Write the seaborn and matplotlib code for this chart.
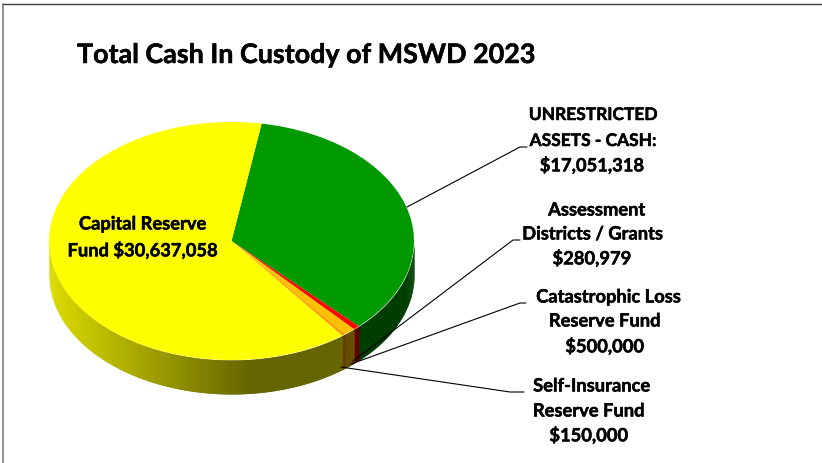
import numpy as np
import matplotlib
matplotlib.use("Agg")
import matplotlib.pyplot as plt
import matplotlib.colors as mcolors
import matplotlib.patheffects as pe
import seaborn as sns

funds = ["UNRESTRICTED ASSETS - CASH", "Assessment Districts / Grants",
         "Catastrophic Loss Reserve Fund", "Self-Insurance Reserve Fund",
         "Capital Reserve Fund"]
amounts = [17051318, 280979, 500000, 150000, 30637058]
slice_colors = ["#009900", "#ff0000", "#ffc000", "#ff9900", "#ffff00"]

# one entry per text line: text, x centre, y centre, size
label_lines = [("UNRESTRICTED", 593, 115, 12.5),
               ("ASSETS - CASH:", 593, 141, 12.5),
               ("$17,051,318", 592, 165, 13.2),
               ("Assessment", 597, 210, 13.2),
               ("Districts / Grants", 593, 234, 13.2),
               ("$280,979", 592, 258, 13.2),
               ("Catastrophic Loss", 609, 297, 13.2),
               ("Reserve Fund", 605, 321, 13.2),
               ("$500,000", 605, 346, 13.2),
               ("Self-Insurance", 592, 386, 13.2),
               ("Reserve Fund", 589, 411, 13.2),
               ("$150,000", 589, 435, 13.2),
               ("Capital Reserve", 143, 224, 13.2),
               ("Fund $30,637,058", 143, 250, 13.2)]

leader_start = [(407, 207), (353, 361), (351, 364), (341, 367)]
leader_bend = [(520, 147), (513, 240), (520, 303), (510, 392)]
leader_end = [(527, 147), (520, 240), (526, 303), (524, 392)]

W, H = 822, 463
CX, CY, RX, RY = 231.5, 241, 182.5, 119
DEPTH = 34 / RY
START = 80.5
STEP = 0.5

sns.set_theme(style="white")
plt.rcParams["font.family"] = ["Lato", "DejaVu Sans"]

fig = plt.figure(figsize=(W / 100, H / 100), dpi=100)
ax = fig.add_axes([0, 0, 1, 1])


def shade(x):
    # side wall gets darker going left to right, flat past the middle
    t = np.clip((x + 1) / 1.08, 0, 1)
    return 0.86 - 0.46 * t


# side wall, only the front half of the rim shows
fractions = np.array(amounts) / sum(amounts)
edges = START - 360 * np.concatenate([[0], np.cumsum(fractions)])
for i, color in enumerate(slice_colors):
    base = np.array(mcolors.to_rgb(color))
    steps = np.arange(edges[i], edges[i + 1] - STEP, -STEP)
    steps = np.append(steps, edges[i + 1])
    for j in range(len(steps) - 1):
        # reach back over the previous strip so no seams show
        a = steps[max(j - 1, 0)]
        b = steps[j + 1]
        mid = np.radians((steps[j] + b) / 2)
        if np.sin(mid) > 0:
            continue
        ang = np.radians(np.linspace(a, b, 4))
        ang = ang[np.sin(ang) <= 0.02]
        xs = np.cos(ang)
        ys = np.sin(ang)
        ax.fill_between(xs, ys, ys - DEPTH, color=base * shade(np.cos(mid)), lw=0)

# top face
ax.pie(amounts, colors=slice_colors, startangle=START, counterclock=False,
       radius=1, center=(0, 0), wedgeprops={"linewidth": 0})

ax.set_aspect("auto")
ax.set_xlim(-CX / RX, (W - CX) / RX)
ax.set_ylim((CY - H) / RY, CY / RY)
ax.axis("off")

# everything else is placed in pixels from the top left
px = fig.add_axes([0, 0, 1, 1], facecolor="none")
px.set_xlim(0, W)
px.set_ylim(H, 0)
px.axis("off")

px.plot([3, 3], [H, 4], color="#7f7f7f", lw=1.2)
px.plot([3, W], [4, 4], color="#404040", lw=1.0)

heavy = [pe.withStroke(linewidth=0.35, foreground="black")]

px.text(77, 55, "Total Cash In Custody of MSWD 2023", fontsize=19.35,
        fontweight="bold", color="black", ha="left", va="center",
        path_effects=heavy)

for txt, x, y, size in label_lines:
    px.text(x, y, txt, fontsize=size, fontweight="bold", color="black",
            ha="center", va="center", path_effects=heavy)

for s, b, e in zip(leader_start, leader_bend, leader_end):
    px.plot([s[0], b[0], e[0]], [s[1], b[1], e[1]], color="black", lw=0.8)

fig.savefig("out.png", dpi=100)
